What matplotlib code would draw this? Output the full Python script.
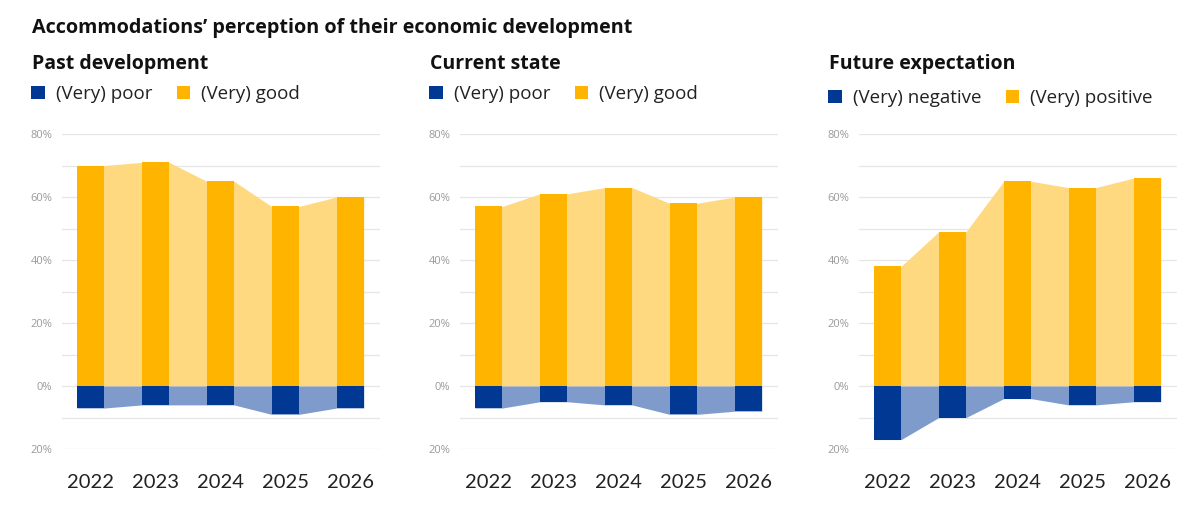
import matplotlib
matplotlib.use("Agg")
import matplotlib.pyplot as plt
from matplotlib.patches import Patch
import numpy as np

plt.rcParams['font.family'] = ['Open Sans', 'DejaVu Sans']

years = ['2022', '2023', '2024', '2025', '2026']

# share of positive / negative answers in %
past_good = [70, 71, 65, 57, 60]
past_poor = [7, 6, 6, 9, 7]
current_good = [57, 61, 63, 58, 60]
current_poor = [7, 5, 6, 9, 8]
future_positive = [38, 49, 65, 63, 66]
future_negative = [17, 10, 4, 6, 5]

panels = [
    ("Past development", "(Very) poor", "(Very) good", past_poor, past_good),
    ("Current state", "(Very) poor", "(Very) good", current_poor, current_good),
    ("Future expectation", "(Very) negative", "(Very) positive", future_negative, future_positive),
]

BLUE = '#003893'
BLUE_LIGHT = '#7f9bcb'
ORANGE = '#ffb400'
ORANGE_LIGHT = '#ffd97f'
GRID = '#e6e6e6'

W, H = 1200, 513
fig = plt.figure(figsize=(W / 100, H / 100), dpi=100)

fig.text(32 / W, 1 - 28 / H, "Accommodations\u2019 perception of their economic development",
         fontsize=14.2, fontweight='bold', ha='left', va='center', color='#111111')

bar_w = 0.42
lefts = [62, 460, 859]
for (sub, neg_lbl, pos_lbl, neg, pos), left in zip(panels, lefts):
    ax = fig.add_axes([left / W, (H - 449) / H, 318 / W, 315 / H])
    x = np.arange(len(years))
    neg_vals = -np.array(neg, dtype=float)
    pos_vals = np.array(pos, dtype=float)

    # connecting bands between bars
    xs = np.column_stack([x - bar_w / 2, x + bar_w / 2]).ravel()
    ax.fill_between(xs, 0, np.repeat(pos_vals, 2), color=ORANGE_LIGHT, lw=0, zorder=1)
    ax.fill_between(xs, 0, np.repeat(neg_vals, 2), color=BLUE_LIGHT, lw=0, zorder=1)

    ax.bar(x, pos_vals, width=bar_w, color=ORANGE, zorder=2)
    ax.bar(x, neg_vals, width=bar_w, color=BLUE, zorder=2)

    ax.set_xlim(-0.44, 4.46)
    ax.set_ylim(-20, 80)
    ax.set_yticks(np.arange(-20, 81, 10))
    ax.set_yticklabels(['20%', '', '0%', '', '20%', '', '40%', '', '60%', '', '80%'])
    ax.grid(axis='y', color=GRID, lw=0.9, zorder=0)
    ax.set_axisbelow(True)
    ax.set_xticks(x)
    ax.set_xticklabels(years, family=['Lato', 'DejaVu Sans'])
    ax.tick_params(axis='x', length=0, pad=18, labelsize=14.5, labelcolor='#222222')
    ax.tick_params(axis='y', length=0, pad=7, labelsize=8, labelcolor='#9a9a9a')
    for s in ax.spines.values():
        s.set_visible(False)

    tx = (left - 30) / W
    fig.text(tx, 1 - 64 / H, sub, fontsize=14, fontweight='bold',
             ha='left', va='center', color='#111111')
    handles = [Patch(facecolor=BLUE, label=neg_lbl), Patch(facecolor=ORANGE, label=pos_lbl)]
    ly = 94 if left != 859 else 98
    fig.legend(handles=handles, loc='center left', bbox_to_anchor=(tx - 0.007, 1 - ly / H),
               ncol=2, frameon=False, fontsize=13.5, handlelength=0.72, handleheight=0.72,
               handletextpad=0.6, columnspacing=1.3, labelcolor='#222222', borderaxespad=0)

fig.savefig('out.png', dpi=100, facecolor='white')
